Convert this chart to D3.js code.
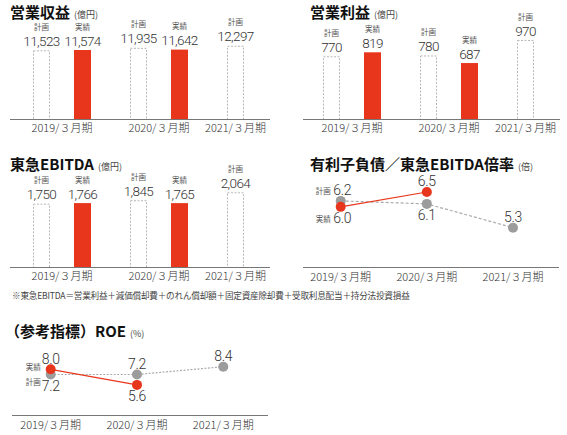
<!DOCTYPE html>
<html><head><meta charset="utf-8">
<script src="https://cdn.jsdelivr.net/npm/d3@7/dist/d3.min.js"></script>
<style>
body{margin:0;background:#fff;}
svg{display:block;font-family:"Noto Sans CJK JP","Noto Sans",sans-serif;}
.num{font-family:Roboto,"Noto Sans",sans-serif;font-weight:300;}
</style></head><body>
<svg id="c" width="567" height="435"></svg>
<script>
const periods = ["2019/３月期","2020/３月期","2021/３月期"];
const revenuePlan = [11523, 11935, 12297];
const revenueActual = [11574, 11642, null];
const opPlan = [770, 780, 970];
const opActual = [819, 687, null];
const ebitdaPlan = [1750, 1845, 2064];
const ebitdaActual = [1766, 1765, null];
const ratioPlan = [6.2, 6.1, 5.3];
const ratioActual = [6.0, 6.5, null];
const roePlan = [7.2, 7.2, 8.4];
const roeActual = [8.0, 5.6, null];
const seriesNames = {plan:"計画", actual:"実績"};
const footnote = "※東急EBITDA＝営業利益＋減価償却費＋のれん償却額＋固定資産除却費＋受取利息配当＋持分法投資損益";

const RED = "#e8361c", GRAY = "#9c9c9c", TXT = "#333";
const svg = d3.select("#c");
const fmt = d3.format(",");

function title(x, y, main, unit, size){
  const t = svg.append("text").attr("x", x).attr("y", y).attr("fill", "#111");
  t.append("tspan").text(main).attr("font-size", size||15).attr("font-weight", 700);
  t.append("tspan").text(unit).attr("font-size", 9).attr("fill", "#444").attr("dx", 4);
}

function barPanel(o){
  const g = svg.append("g").attr("transform", `translate(${o.dx},${o.dy})`);
  const x0 = d3.scaleBand().domain(periods).range([13.5, 304.5]);
  const x1 = d3.scaleBand().domain(["plan","actual"]).range([19.5, 77.5]).paddingInner(0.585);
  const y = d3.scaleLinear().domain([0, d3.max(o.plan.concat(o.actual))]).range([o.base, o.base - o.h]);
  const rows = [];
  periods.forEach((p, i) => {
    if (o.plan[i] != null) rows.push({p, k:"plan", v:o.plan[i]});
    if (o.actual[i] != null) rows.push({p, k:"actual", v:o.actual[i]});
  });
  const bx = d => x0(d.p) + x1(d.k);
  g.selectAll("rect.b").data(rows).join("rect")
    .attr("x", d => bx(d) + (d.k==="plan"?0.5:0))
    .attr("y", d => y(d.v) + (d.k==="plan"?0.5:0))
    .attr("width", d => x1.bandwidth() - (d.k==="plan"?1:0))
    .attr("height", d => o.base - y(d.v))
    .attr("fill", d => d.k==="plan" ? "#fff" : RED)
    .attr("stroke", d => d.k==="plan" ? "#b8b8b8" : "none")
    .attr("stroke-dasharray", "2,1.5")
    .attr("stroke-width", 1);
  g.selectAll("text.v").data(rows).join("text").attr("class", "num")
    .attr("x", d => bx(d) + x1.bandwidth()/2)
    .attr("y", d => y(d.v) - 4.5)
    .attr("text-anchor", "middle").attr("font-size", 13.5)
    .attr("fill", TXT).attr("letter-spacing", -0.6)
    .text(d => fmt(d.v));
  g.selectAll("text.s").data(rows).join("text")
    .attr("x", d => bx(d) + x1.bandwidth()/2)
    .attr("y", d => y(d.v) - 20.5)
    .attr("text-anchor", "middle").attr("font-size", 7.5).attr("fill", "#555")
    .text(d => seriesNames[d.k]);
  g.append("line").attr("x1", o.ax0).attr("x2", o.ax1).attr("y1", o.base+0.5).attr("y2", o.base+0.5)
    .attr("stroke", "#777").attr("stroke-width", 1);
  periods.forEach(p => {
    const r = rows.filter(d => d.p === p);
    const cx = d3.mean(r, d => bx(d) + x1.bandwidth()/2);
    g.append("text").attr("x", cx).attr("y", o.base + 13).attr("text-anchor", "middle")
      .attr("font-size", 11).attr("font-weight", 300).attr("fill", TXT).text(p);
  });
}

barPanel({dx:0, dy:0, base:119, h:73.3, plan:revenuePlan, actual:revenueActual, ax0:10, ax1:270});
barPanel({dx:290, dy:0, base:119, h:79, plan:opPlan, actual:opActual, ax0:13, ax1:270});
barPanel({dx:0, dy:0, base:267, h:74.7, plan:ebitdaPlan, actual:ebitdaActual, ax0:10, ax1:270});

title(10, 17.5, "営業収益", "(億円)");
title(310, 17.5, "営業利益", "(億円)");
title(10, 169.5, "東急EBITDA", "(億円)");
title(310, 169.5, "有利子負債／東急EBITDA倍率", "(倍)");
title(5, 337, "（参考指標）ROE", "(%)");

svg.append("text").attr("x", 12).attr("y", 299).attr("font-size", 8.6).attr("fill", "#444")
  .attr("letter-spacing", -0.2).text(footnote);

function linePanel(o){
  const g = svg.append("g");
  const x = d3.scalePoint().domain(periods).range(o.xr);
  const y = d3.scaleLinear().domain(o.dom).range(o.yr);
  const pts = k => periods.map((p, i) => ({p, i, k, v:o[k][i]})).filter(d => d.v != null);
  const line = d3.line().x(d => x(d.p)).y(d => y(d.v));
  g.append("line").attr("x1", o.ax0).attr("x2", o.ax1).attr("y1", o.base+0.5).attr("y2", o.base+0.5)
    .attr("stroke", "#777");
  g.append("path").attr("d", line(pts("plan"))).attr("fill", "none").attr("stroke", "#aaa")
    .attr("stroke-width", 1.2).attr("stroke-dasharray", o.dash);
  g.append("path").attr("d", line(pts("actual"))).attr("fill", "none").attr("stroke", RED)
    .attr("stroke-width", 1.2);
  ["plan","actual"].forEach(k => {
    g.selectAll(null).data(pts(k)).join("circle")
      .attr("cx", d => x(d.p)).attr("cy", d => y(d.v)).attr("r", 5)
      .attr("fill", k==="plan" ? GRAY : RED);
  });
  const all = pts("plan").concat(pts("actual"));
  all.forEach(d => {
    const other = all.find(e => e.p === d.p && e.k !== d.k);
    const above = !other || d.v > other.v;
    const ty = above ? y(d.v) - 5.5 : y(d.v) + 16.5;
    const tx = x(d.p) + (d.i === 0 && !o.nameAtPoint ? 1.5 : 0);
    g.append("text").attr("class", "num").attr("x", tx).attr("y", ty).attr("text-anchor", "middle")
      .attr("font-size", 14).attr("fill", TXT).attr("letter-spacing", -0.3).text(d.v.toFixed(1));
    if (d.i === 0) {
      const sy = o.nameAtPoint ? (above ? y(d.v) + 1 : y(d.v) + 10) : ty - 1;
      g.append("text").attr("x", x(d.p) - 10).attr("y", sy)
        .attr("text-anchor", "end").attr("font-size", 7.5).attr("fill", "#555").text(seriesNames[d.k]);
    }
  });
  periods.forEach(p => {
    g.append("text").attr("x", x(p)).attr("y", o.base + 14).attr("text-anchor", "middle")
      .attr("font-size", 11).attr("font-weight", 300).attr("fill", TXT).text(p);
  });
}

linePanel({plan:ratioPlan, actual:ratioActual, xr:[340.7, 513], dom:[5, 7], yr:[236.6, 177.1],
  base:267, ax0:303, ax1:559, dash:"3,2", nameAtPoint:false});
linePanel({plan:roePlan, actual:roeActual, xr:[50.7, 223.3], dom:[5, 9], yr:[388.8, 362.8],
  base:415, ax0:12, ax1:268, dash:"2,1.5", nameAtPoint:true});
</script>
</body></html>
